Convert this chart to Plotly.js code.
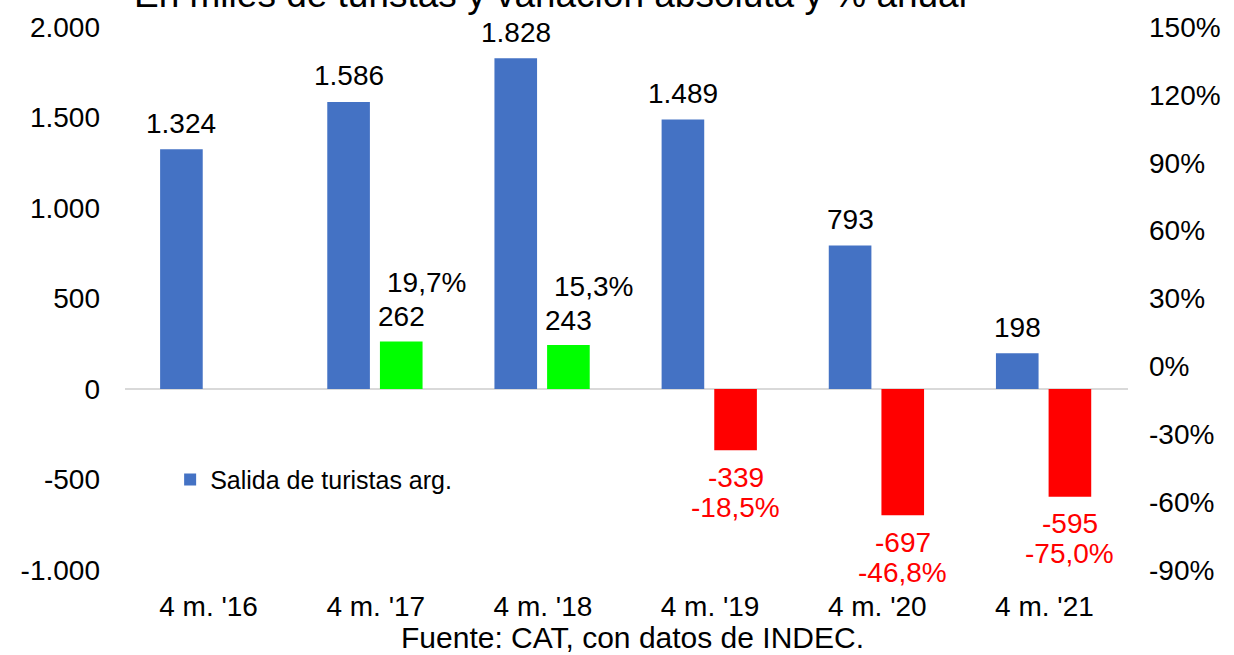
<!DOCTYPE html>
<html>
<head>
<meta charset="utf-8">
<script src="https://cdn.plot.ly/plotly-3.0.1.min.js"></script>
<style>html,body{margin:0;padding:0;background:#fff;}#chart{width:1234px;height:655px;}</style>
</head>
<body>
<div id="chart"></div>
<script>
const categories = ["4 m. '16", "4 m. '17", "4 m. '18", "4 m. '19", "4 m. '20", "4 m. '21"];
const salidas = [1324, 1586, 1828, 1489, 793, 198];
const variacionAbs = [null, 262, 243, -339, -697, -595];
const variacionPct = [null, 19.7, 15.3, -18.5, -46.8, -75.0];
const leftTicks = [-1000, -500, 0, 500, 1000, 1500, 2000];
const rightTicks = [-90, -60, -30, 0, 30, 60, 90, 120, 150];

function fmtMiles(v) {
  const s = Math.abs(v).toString().replace(/\B(?=(\d{3})+(?!\d))/g, '.');
  return (v < 0 ? '-' : '') + s;
}
function fmtPct(v) {
  return v.toFixed(1).replace('.', ',') + '%';
}

const FONT = 'Liberation Sans, Arial, sans-serif';
const FS = 28;
const PX_PER_CAT = 167;

const traces = [
  {
    type: 'bar', name: 'Salida de turistas arg.', x: categories, y: salidas,
    marker: {color: '#4472C4'}, width: 0.255, offset: -0.29, hoverinfo: 'skip'
  },
  {
    type: 'bar', name: 'Variación', x: categories, y: variacionAbs,
    marker: {color: variacionAbs.map(v => v === null ? '#fff' : (v >= 0 ? '#00FF00' : '#FF0000'))},
    width: 0.255, offset: 0.025, showlegend: false, hoverinfo: 'skip'
  },
  {
    type: 'scatter', mode: 'markers', x: categories, y: categories.map(() => null),
    yaxis: 'y2', showlegend: false, hoverinfo: 'skip'
  }
];

const annotations = [];
categories.forEach((c, i) => {
  annotations.push({
    x: c, y: salidas[i], xref: 'x', yref: 'y', text: fmtMiles(salidas[i]), showarrow: false,
    xshift: (-0.29 + 0.1275) * PX_PER_CAT, yshift: 26, yanchor: 'middle',
    font: {family: FONT, size: FS, color: '#000'}
  });
  const a = variacionAbs[i];
  if (a === null) return;
  const pos = a >= 0;
  const col = pos ? '#000' : '#FF0000';
  annotations.push({
    x: c, y: a, xref: 'x', yref: 'y', text: fmtMiles(a), showarrow: false,
    xshift: 0.1525 * PX_PER_CAT, yshift: pos ? 25 : -27, yanchor: 'middle',
    font: {family: FONT, size: FS, color: col}
  });
  annotations.push({
    x: c, y: a, xref: 'x', yref: 'y', text: fmtPct(variacionPct[i]), showarrow: false,
    xshift: 0.1525 * PX_PER_CAT + (pos ? 25 : 0), yshift: pos ? 59 : -57, yanchor: 'middle',
    font: {family: FONT, size: FS, color: col}
  });
});
annotations.push({
  text: 'En miles de turistas y variación absoluta y % anual', xref: 'paper', yref: 'paper',
  x: 0.424, y: 1.0184, xanchor: 'center', yanchor: 'bottom', showarrow: false,
  font: {family: FONT, size: 37, color: '#000'}
});
annotations.push({
  text: 'Fuente: CAT, con datos de INDEC.', xref: 'paper', yref: 'paper',
  x: 0.506, y: -0.124, xanchor: 'center', yanchor: 'middle', showarrow: false,
  font: {family: FONT, size: 30, color: '#000'}
});

const layout = {
  width: 1234, height: 655,
  margin: {l: 125, r: 106, t: 27, b: 85},
  paper_bgcolor: '#fff', plot_bgcolor: '#fff',
  separators: ',.',
  barmode: 'overlay',
  font: {family: FONT, size: FS, color: '#000'},
  xaxis: {
    type: 'category', range: [-0.5, 5.5], showgrid: false, showline: false, ticks: '',
    tickfont: {family: FONT, size: FS, color: '#000'}, ticklabelstandoff: 17
  },
  yaxis: {
    range: [-1000, 2000], tickvals: leftTicks, ticktext: leftTicks.map(fmtMiles),
    showgrid: false, showline: false, zeroline: true, zerolinecolor: '#D9D9D9', zerolinewidth: 1.5,
    tickfont: {family: FONT, size: FS, color: '#000'}, ticklabelstandoff: 24, ticks: ''
  },
  yaxis2: {
    overlaying: 'y', side: 'right', range: [-90, 150], tickvals: rightTicks,
    ticktext: rightTicks.map(v => v + '%'), showgrid: false, zeroline: false, showline: false,
    tickfont: {family: FONT, size: FS, color: '#000'}, ticklabelstandoff: 20, ticks: ''
  },
  showlegend: true,
  legend: {
    x: 0.045, y: 0.166, xanchor: 'left', yanchor: 'middle', bgcolor: 'rgba(0,0,0,0)',
    font: {family: FONT, size: 25, color: '#000'}, itemwidth: 30
  },
  annotations: annotations
};

Plotly.newPlot('chart', traces, layout, {displayModeBar: false, staticPlot: true});
</script>
</body>
</html>
